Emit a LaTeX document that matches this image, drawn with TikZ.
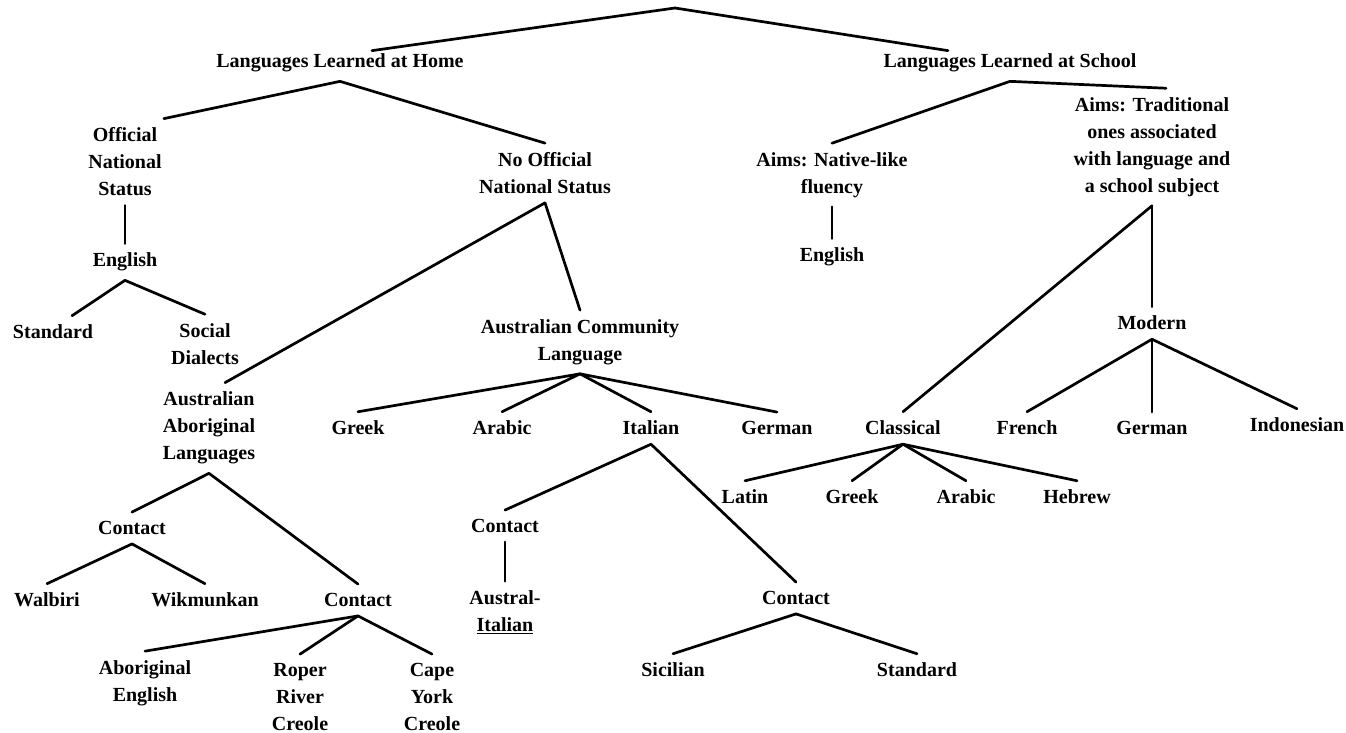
\documentclass[tikz,border=0pt]{standalone}
\usepackage{fontspec}
\setmainfont{Liberation Serif}
\usetikzlibrary{calc}

\begin{document}
\begin{tikzpicture}[x=1pt, y=-1pt,
    lbl/.style={align=center, inner xsep=2pt, inner ysep=9pt,
        font=\fontsize{20}{27}\selectfont\bfseries},
    branch/.style={line width=2.7pt, line cap=round}]
    \useasboundingbox (0,0) rectangle (1346,733);

    % top level
    \coordinate (root) at (675,8);
    \node[lbl] (home) at (340,63) {Languages Learned at Home};
    \node[lbl] (school) at (1010,63) {Languages Learned at School};

    % home side
    \node[lbl] (offic) at (125,162) {Official\\National\\Status};
    \node[lbl] (noOffic) at (545,173) {No Official\\National Status};
    \node[lbl] (engL) at (125,262) {English};
    \node[lbl] (stdL) at (53,332) {Standard};
    \node[lbl] (social) at (205,344) {Social\\Dialects};
    \node[lbl] (aal) at (209,428) {Australian\\Aboriginal\\Languages};
    \node[lbl] (acl) at (580,342) {Australian Community\\Language};
    \node[lbl] (greekA) at (358,428) {Greek};
    \node[lbl] (arabA) at (502,428) {Arabic};
    \node[lbl] (italA) at (651,428) {Italian};
    \node[lbl] (germA) at (777,428) {German};

    \node[lbl] (contA) at (132,528) {Contact};
    \node[lbl] (walb) at (47,600) {Walbiri};
    \node[lbl] (wikm) at (205,600) {Wikmunkan};
    \node[lbl] (contB) at (358,600) {Contact};
    \node[lbl] (aborE) at (145,683) {Aboriginal\\English};
    \node[lbl] (roper) at (300,697) {Roper\\River\\Creole};
    \node[lbl] (cape) at (432,697) {Cape\\York\\Creole};

    \node[lbl] (contC) at (505,526) {Contact};
    \node[lbl] (austIt) at (505,612) {Austral-\\\underline{Italian}};
    \node[lbl] (contD) at (796,598) {Contact};
    \node[lbl] (sicil) at (673,670) {Sicilian};
    \node[lbl] (stdIt) at (917,670) {Standard};

    % school side
    \node[lbl] (native) at (832,175) {Aims: Native-like\\fluency};
    \node[lbl] (engR) at (832,257) {English};
    \node[lbl] (trad) at (1152,147) {Aims: Traditional\\ones associated\\with language and\\a school subject};
    \node[lbl] (modern) at (1152,323) {Modern};
    \node[lbl] (classic) at (903,428) {Classical};
    \node[lbl] (french) at (1027,428) {French};
    \node[lbl] (germM) at (1152,428) {German};
    \node[lbl] (indo) at (1297,425) {Indonesian};
    \node[lbl] (latin) at (745,497) {Latin};
    \node[lbl] (greekC) at (852,497) {Greek};
    \node[lbl] (arabC) at (966,497) {Arabic};
    \node[lbl] (hebrew) at (1077,497) {Hebrew};

    % branches
    \draw[branch] (root) -- ($(home.north)+(32,6)$);
    \draw[branch] (root) -- ($(school.north)+(-62,6)$);
    \draw[branch] (home.south) -- (offic.north east);
    \draw[branch] (home.south) -- (noOffic.north);
    \draw[branch] (offic.south) -- (engL.north);
    \draw[branch] (engL.south) -- ($(stdL.north)+(19,0)$);
    \draw[branch] (engL.south) -- (social.north);
    \draw[branch] (noOffic.south) -- ($(aal.north)+(16,0)$);
    \draw[branch] (noOffic.south) -- (acl.north);
    \foreach \kid in {greekA, arabA, italA, germA}
        \draw[branch] (acl.south) -- (\kid.north);
    \draw[branch] (aal.south) -- (contA.north);
    \draw[branch] (aal.south) -- (contB.north);
    \draw[branch] (contA.south) -- (walb.north);
    \draw[branch] (contA.south) -- (wikm.north);
    \foreach \kid in {aborE, roper, cape}
        \draw[branch] (contB.south) -- (\kid.north);
    \draw[branch] (italA.south) -- (contC.north);
    \draw[branch] (italA.south) -- (contD.north);
    \draw[branch] (contC.south) -- (austIt.north);
    \draw[branch] (contD.south) -- (sicil.north);
    \draw[branch] (contD.south) -- (stdIt.north);

    \draw[branch] (school.south) -- (native.north);
    \draw[branch] (school.south) -- ($(trad.north)+(14,0)$);
    \draw[branch] (native.south) -- (engR.north);
    \draw[branch] (trad.south) -- (classic.north);
    \draw[branch] (trad.south) -- (modern.north);
    \foreach \kid in {french, germM, indo}
        \draw[branch] (modern.south) -- (\kid.north);
    \foreach \kid in {latin, greekC, arabC, hebrew}
        \draw[branch] (classic.south) -- (\kid.north);
\end{tikzpicture}
\end{document}
